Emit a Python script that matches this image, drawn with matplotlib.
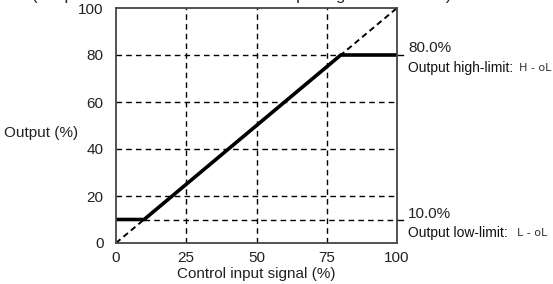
import matplotlib
matplotlib.use("Agg")
import matplotlib.pyplot as plt

# control input signal (%) vs output (%)
signal = [0, 10, 80, 100]
output = [10, 10, 80, 80]
ref_line = [0, 100]
high_limit = 80.0
low_limit = 10.0
xticks = [0, 25, 50, 75, 100]
yticks = [0, 20, 40, 60, 80, 100]

plt.rcParams['font.family'] = ['Liberation Sans', 'DejaVu Sans']

fig = plt.figure(figsize=(5.53, 2.84), dpi=100)
ax = fig.add_axes([116 / 553, 41 / 284, 281 / 553, 235 / 284])

# grid (dashed)
dash = (0, (4, 3))
for x in xticks[1:-1]:
    ax.plot([x, x], [0, 100], color='black', lw=1, ls=dash)
for y in yticks[1:-1]:
    if y == high_limit:
        continue
    ax.plot([0, 100], [y, y], color='black', lw=1, ls=dash)
ax.plot([0, high_limit], [high_limit, high_limit], color='black', lw=1, ls=dash)
ax.plot([low_limit, 100], [low_limit, low_limit], color='black', lw=1, ls=dash)

# 1:1 reference
ax.plot(ref_line, ref_line, color='black', lw=1.4, ls=(0, (3, 2)))

# limited output
ax.plot(signal, output, color='black', lw=2.6, solid_joinstyle='miter')

ax.set_xlim(0, 100)
ax.set_ylim(0, 100)
ax.set_xticks(xticks)
ax.set_yticks(yticks)
ax.tick_params(length=0, labelsize=11, colors='#222222')
ax.tick_params(axis='x', pad=6)
ax.tick_params(axis='y', pad=9)
for s in ax.spines.values():
    s.set_color('#444444')
    s.set_linewidth(1.3)

# short marks on the right edge
for y in [high_limit, low_limit]:
    ax.plot([100, 102], [y, y], color='black', lw=1, clip_on=False)

ax.text(104, 83, f'{high_limit:.1f}%', fontsize=11, va='center', color='#222222')
ax.text(104, 74.5, 'Output high-limit:', fontsize=10, va='center', color='#111111')
ax.text(104, 12.3, f'{low_limit:.1f}%', fontsize=11, va='center', color='#222222')
ax.text(104, 4.3, 'Output low-limit:', fontsize=10, va='center', color='#111111')
ax.text(143.5, 74.5, 'H - oL', fontsize=8, va='center', color='#333333', family='DejaVu Sans')
ax.text(142.8, 4.3, 'L - oL', fontsize=8, va='center', color='#333333', family='DejaVu Sans')

ax.set_ylabel('Output (%)', fontsize=11, rotation=0, color='#222222', ha='center', va='center')
ax.yaxis.set_label_coords(-0.265, 0.468)
ax.set_xlabel('Control input signal (%)', fontsize=11, labelpad=1, color='#222222')

# clipped heading at the top
fig.text(32 / 553, 1.0, '(Output limit action for the control input signal and result)',
         fontsize=12, va='baseline', color='#222222')

fig.savefig('out.png', dpi=100)
